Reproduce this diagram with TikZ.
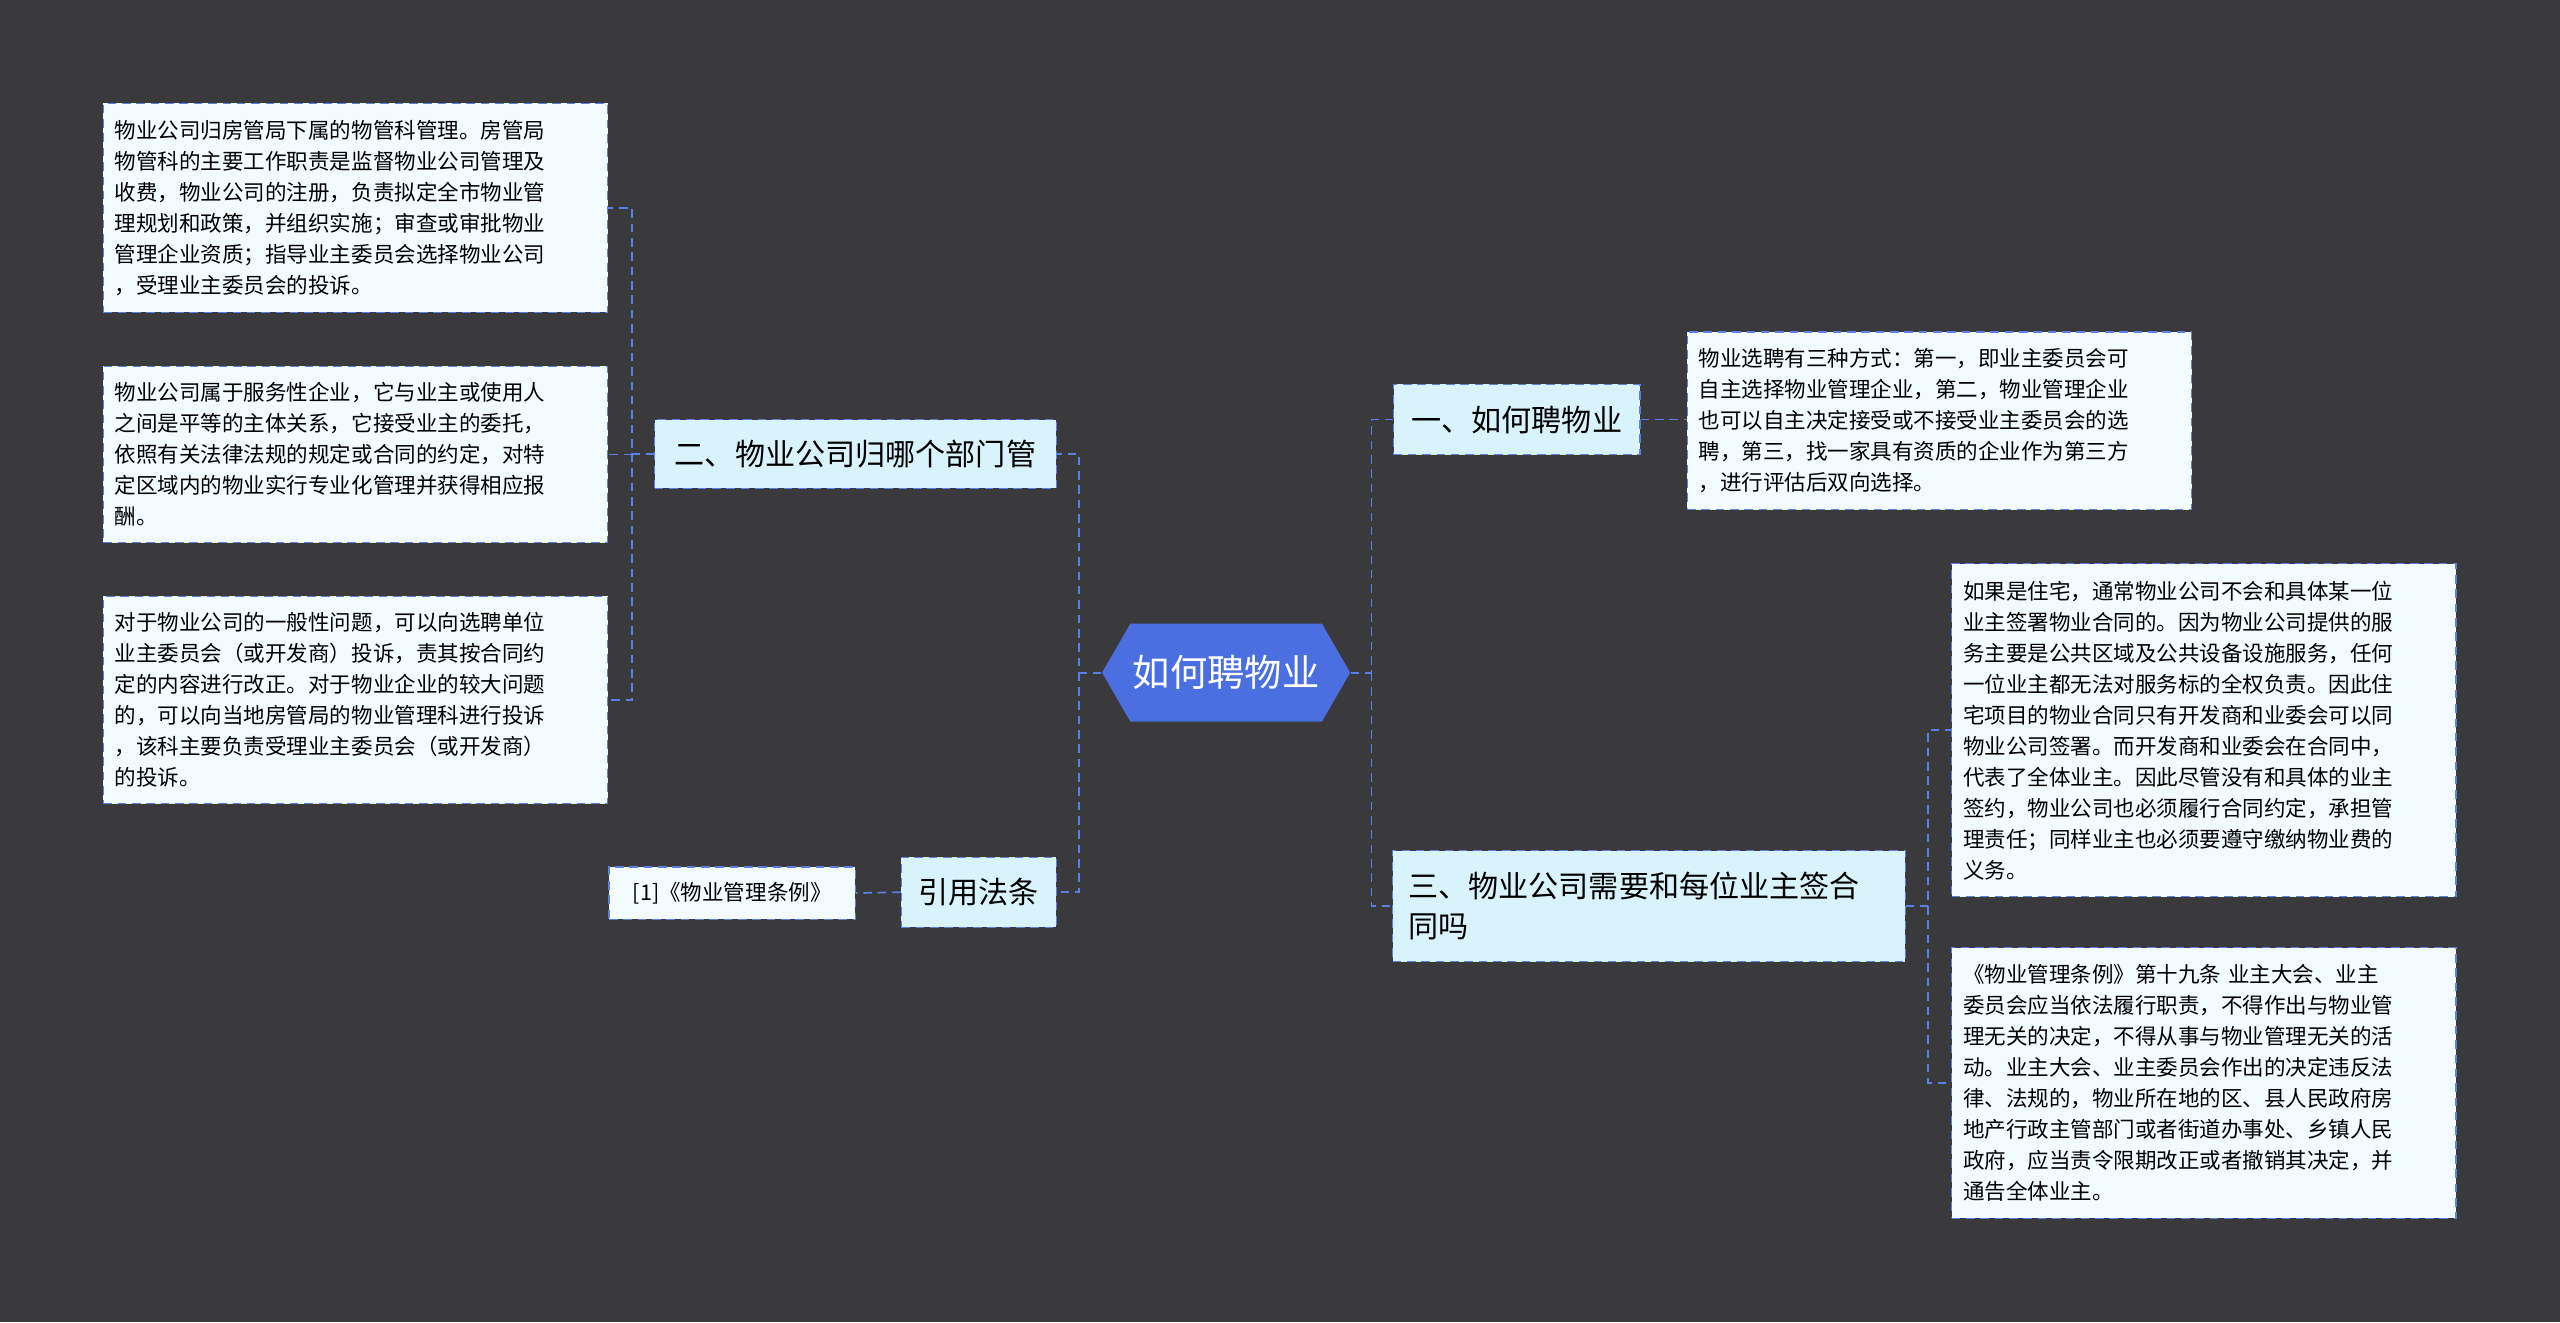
\documentclass[tikz,border=0pt]{standalone}
\usepackage{fontspec}
\setmainfont{Noto Sans CJK SC}
\usetikzlibrary{shapes.symbols}
\definecolor{bgcol}{HTML}{3A393C}
\definecolor{linkcol}{HTML}{5A7FE6}
\definecolor{branchfill}{HTML}{D9F3FD}
\definecolor{leaffill}{HTML}{F2FBFF}
\definecolor{hubfill}{HTML}{4B6FE0}
\begin{document}
\begin{tikzpicture}[x=0.02cm,y=-0.02cm,
link/.style={draw=linkcol,densely dashed,line width=0.6pt},
branch/.style={fill=branchfill,draw=linkcol,densely dashed,font=\fontsize{10.5}{14}\selectfont,inner sep=0pt,align=left},
leaf/.style={fill=leaffill,draw=linkcol,densely dashed,font=\fontsize{7.5}{10.8}\selectfont,inner xsep=0.14cm,inner ysep=0pt,text width=5.9cm,align=left,anchor=north west}]
\fill[bgcol] (0,0) rectangle (1568,810);

\node[signal,signal to=east and west,signal pointer angle=120,fill=hubfill,text=white,minimum width=3.04cm,minimum height=1.2cm,inner sep=0pt,font=\fontsize{13}{16}\selectfont] (hub) at (751,412) {如何聘物业};

% right side
\node[branch,minimum width=3.02cm,minimum height=0.86cm] (b1) at (929,257) {一、如何聘物业};
\node[branch,minimum width=6.28cm,minimum height=1.36cm,text width=5.9cm] (b3) at (1010,555) {三、物业公司需要和每位业主签合\\同吗};
\node[leaf,minimum height=2.18cm] (r1) at (1033,203) {物业选聘有三种方式：第一，即业主委员会可\\自主选择物业管理企业，第二，物业管理企业\\也可以自主决定接受或不接受业主委员会的选\\聘，第三，找一家具有资质的企业作为第三方\\，进行评估后双向选择。};
\node[leaf,minimum height=4.08cm] (r2) at (1195,345) {如果是住宅，通常物业公司不会和具体某一位\\业主签署物业合同的。因为物业公司提供的服\\务主要是公共区域及公共设备设施服务，任何\\一位业主都无法对服务标的全权负责。因此住\\宅项目的物业合同只有开发商和业委会可以同\\物业公司签署。而开发商和业委会在合同中，\\代表了全体业主。因此尽管没有和具体的业主\\签约，物业公司也必须履行合同约定，承担管\\理责任；同样业主也必须要遵守缴纳物业费的\\义务。};
\node[leaf,minimum height=3.32cm] (r3) at (1195,580) {《物业管理条例》第十九条 业主大会、业主\\委员会应当依法履行职责，不得作出与物业管\\理无关的决定，不得从事与物业管理无关的活\\动。业主大会、业主委员会作出的决定违反法\\律、法规的，物业所在地的区、县人民政府房\\地产行政主管部门或者街道办事处、乡镇人民\\政府，应当责令限期改正或者撤销其决定，并\\通告全体业主。};

% left side
\node[branch,minimum width=4.92cm,minimum height=0.84cm] (b2) at (524,278) {二、物业公司归哪个部门管};
\node[branch,minimum width=1.9cm,minimum height=0.86cm] (b4) at (599.5,546.5) {引用法条};
\node[leaf,minimum height=2.56cm] (l1) at (63,63) {物业公司归房管局下属的物管科管理。房管局\\物管科的主要工作职责是监督物业公司管理及\\收费，物业公司的注册，负责拟定全市物业管\\理规划和政策，并组织实施；审查或审批物业\\管理企业资质；指导业主委员会选择物业公司\\，受理业主委员会的投诉。};
\node[leaf,minimum height=2.16cm] (l2) at (63,224) {物业公司属于服务性企业，它与业主或使用人\\之间是平等的主体关系，它接受业主的委托，\\依照有关法律法规的规定或合同的约定，对特\\定区域内的物业实行专业化管理并获得相应报\\酬。};
\node[leaf,minimum height=2.54cm] (l3) at (63,365) {对于物业公司的一般性问题，可以向选聘单位\\业主委员会（或开发商）投诉，责其按合同约\\定的内容进行改正。对于物业企业的较大问题\\的，可以向当地房管局的物业管理科进行投诉\\，该科主要负责受理业主委员会（或开发商）\\的投诉。};
\node[leaf,anchor=center,text width=,minimum width=3.02cm,minimum height=0.64cm] (l4) at (448.5,547) {[1]《物业管理条例》};

% connectors
\coordinate (hr) at (840,412);
\coordinate (hl) at (661,412);
\coordinate (k3) at (1181,555);
\coordinate (k2) at (387,278);
\draw[link] (hub.east) -- (hr) |- (b1.west);
\draw[link] (hr) |- (b3.west);
\draw[link] (hub.west) -- (hl) |- (b2.east);
\draw[link] (hl) |- (b4.east);
\draw[link] (b1.east) -- (r1.west |- b1.east);
\draw[link] (b3.east) -- (k3) |- (r2.west);
\draw[link] (k3) |- (r3.west);
\draw[link] (b2.west) -- (k2) |- (l1.east);
\draw[link] (k2) |- (l2.east);
\draw[link] (k2) |- (l3.east);
\draw[link] (b4.west) -- (l4.east);
\end{tikzpicture}
\end{document}
